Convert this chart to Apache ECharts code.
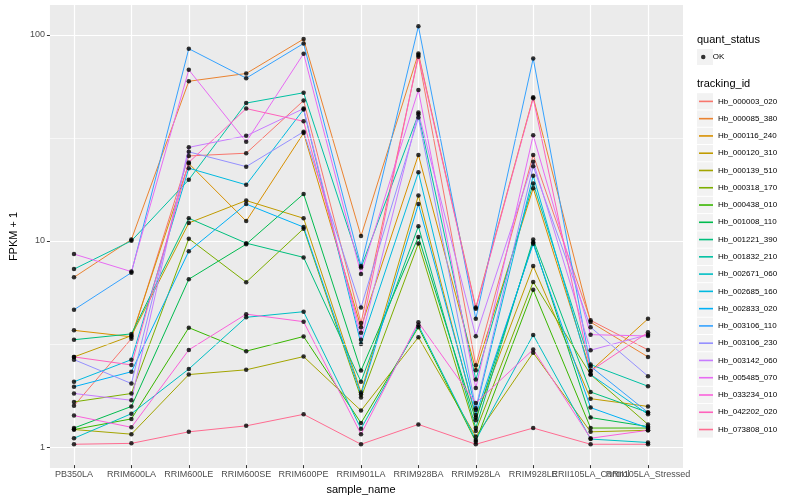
<!DOCTYPE html>
<html><head><meta charset="utf-8">
<script src="https://cdn.jsdelivr.net/npm/echarts@6/dist/echarts.min.js"></script>
<style>html,body{margin:0;padding:0;background:#fff}#c{width:800px;height:500px}</style>
</head><body><div id="c"></div>
<script>
const categories = ['PB350LA','RRIM600LA','RRIM600LE','RRIM600SE','RRIM600PE','RRIM901LA','RRIM928BA','RRIM928LA','RRIM928LE','RRII105LA_Control','RRII105LA_Stressed'];
const trackingIds = ['Hb_000003_020','Hb_000085_380','Hb_000116_240','Hb_000120_310','Hb_000139_510','Hb_000318_170','Hb_000438_010','Hb_001008_110','Hb_001221_390','Hb_001832_210','Hb_002671_060','Hb_002685_160','Hb_002833_020','Hb_003106_110','Hb_003106_230','Hb_003142_060','Hb_005485_070','Hb_033234_010','Hb_042202_020','Hb_073808_010'];
const seriesColors = ['#F8766D','#EA8331','#D89000','#C09B00','#A3A500','#7CAE00','#39B600','#00BB4E','#00BF7D','#00C1A3','#00BFC4','#00BAE0','#00B0F6','#35A2FF','#9590FF','#C77CFF','#E76BF3','#FA62DB','#FF62BC','#FF6C91'];

// FPKM + 1 values, one array per tracking_id, in category order
const hb_000003_020 = [1.54, 3.28, 25.6, 26.4, 47.7, 3.91, 78.2, 2.43, 25.9, 4.03, 2.89];
const hb_000085_380 = [6.54, 10.0, 59.3, 64.7, 95.3, 10.4, 81.1, 4.66, 49.6, 3.95, 2.67];
const hb_000116_240 = [3.60, 3.35, 23.5, 12.3, 33.1, 3.73, 25.9, 2.30, 17.8, 2.28, 4.10];
const hb_000120_310 = [2.67, 3.39, 12.05, 15.5, 12.7, 1.79, 16.4, 1.35, 7.42, 1.67, 1.53];
const hb_000139_510 = [1.18, 1.12, 2.19, 2.31, 2.68, 1.46, 3.33, 1.09, 2.80, 1.15, 1.17];
const hb_000318_170 = [1.61, 1.77, 10.1, 6.19, 11.3, 1.69, 9.57, 1.16, 6.21, 2.19, 1.25];
const hb_000438_010 = [1.18, 1.33, 3.71, 2.85, 3.36, 1.27, 3.73, 1.03, 5.68, 1.20, 1.20];
const hb_001008_110 = [1.20, 1.53, 6.40, 9.49, 16.7, 2.29, 10.3, 1.31, 9.7, 1.35, 1.22];
const hb_001221_390 = [3.24, 3.46, 12.7, 9.6, 8.18, 2.02, 11.6, 1.20, 10.0, 1.80, 1.43];
const hb_001832_210 = [7.17, 9.85, 19.6, 46.4, 52.1, 7.3, 40.9, 2.07, 18.8, 2.45, 1.92];
const hb_002671_060 = [1.07, 1.41, 2.33, 4.17, 4.44, 1.19, 3.81, 1.05, 3.42, 1.06, 1.02];
const hb_002685_160 = [2.02, 2.59, 22.3, 18.5, 43.2, 3.09, 21.3, 1.47, 20.5, 2.19, 1.40];
const hb_002833_020 = [1.91, 2.26, 8.77, 14.9, 11.5, 1.75, 14.9, 1.39, 9.53, 1.51, 1.20];
const hb_003106_110 = [4.54, 6.89, 85.5, 61.4, 90.7, 7.42, 110, 4.10, 76.7, 2.40, 1.43];
const hb_003106_230 = [2.59, 1.98, 26.8, 22.7, 33.6, 4.66, 39.4, 1.50, 22.8, 3.73, 2.15];
const hb_003142_060 = [1.77, 1.64, 28.2, 32.1, 43.6, 3.24, 41.7, 3.37, 24.0, 2.88, 3.43];
const hb_005485_070 = [8.49, 6.97, 67.4, 30.0, 80.9, 6.79, 53.7, 1.88, 32.3, 3.43, 3.38];
const hb_033234_010 = [1.38, 1.21, 2.89, 4.32, 3.97, 1.12, 3.94, 1.59, 2.90, 1.07, 1.17];
const hb_042202_020 = [2.67, 2.44, 23.8, 43.6, 37.8, 3.50, 79.6, 4.59, 49.0, 2.28, 3.52];
const hb_073808_010 = [1.00, 1.01, 1.15, 1.23, 1.40, 1.00, 1.25, 1.00, 1.20, 1.00, 1.00];

const seriesValues = [hb_000003_020, hb_000085_380, hb_000116_240, hb_000120_310, hb_000139_510, hb_000318_170, hb_000438_010, hb_001008_110, hb_001221_390, hb_001832_210, hb_002671_060, hb_002685_160, hb_002833_020, hb_003106_110, hb_003106_230, hb_003142_060, hb_005485_070, hb_033234_010, hb_042202_020, hb_073808_010];

const yTicks = [1, 10, 100];
const yMinorGrid = [3.1623, 31.623];
const yRange = [0.791, 139.8];
const quantStatus = ['OK'];

const FONT = '"Liberation Sans", Arial, Helvetica, sans-serif';
const chart = echarts.init(document.getElementById('c'), null, {renderer: 'canvas'});

const points = [];
seriesValues.forEach(arr => arr.forEach((v, j) => points.push([categories[j], v])));

const lineSeries = trackingIds.map((id, i) => ({
  name: id, type: 'line', xAxisIndex: 1, yAxisIndex: 1,
  data: seriesValues[i], symbol: 'none', showSymbol: false, silent: true,
  lineStyle: {width: 1, color: seriesColors[i]}, itemStyle: {color: seriesColors[i]}, z: 2
}));

const keyBoxes = [{type: 'rect', shape: {x: 697, y: 49, width: 16, height: 16}, style: {fill: '#F2F2F2'}}];
trackingIds.forEach((_, i) => keyBoxes.push({type: 'rect', shape: {x: 697, y: 93.2 + i * 17.27, width: 16, height: 16.3}, style: {fill: '#F2F2F2'}}));

chart.setOption({
  animation: false,
  backgroundColor: '#ffffff',
  textStyle: {fontFamily: FONT},
  title: [
    {text: 'quant_status', left: 697, top: 34, padding: 0, textStyle: {fontSize: 11, fontWeight: 'normal', color: '#000', fontFamily: FONT}},
    {text: 'tracking_id', left: 697, top: 78, padding: 0, textStyle: {fontSize: 11, fontWeight: 'normal', color: '#000', fontFamily: FONT}}
  ],
  graphic: keyBoxes,
  grid: [
    {left: 40, right: 117, top: 5, bottom: 32, show: true, backgroundColor: '#EBEBEB', borderWidth: 0},
    {left: 74, right: 152, top: 5, bottom: 32, show: false}
  ],
  xAxis: [
    {type: 'value', gridIndex: 0, min: 0, max: 1, show: false},
    {type: 'category', gridIndex: 1, data: categories, boundaryGap: false,
     axisLine: {show: false},
     axisTick: {show: true, length: 3, alignWithLabel: true, lineStyle: {color: '#333333', width: 1}},
     axisLabel: {interval: 0, fontSize: 9, color: '#4D4D4D', margin: 5, fontFamily: FONT},
     splitLine: {show: true, lineStyle: {color: '#ffffff', width: 1.2}},
     name: 'sample_name', nameLocation: 'middle', nameGap: 13,
     nameTextStyle: {fontSize: 11, color: '#000', fontFamily: FONT}}
  ],
  yAxis: [
    {type: 'log', logBase: 10, gridIndex: 0, min: yRange[0], max: yRange[1],
     axisLine: {show: false},
     axisTick: {show: true, length: 3, customValues: yTicks, lineStyle: {color: '#333333', width: 1}},
     axisLabel: {customValues: yTicks, fontSize: 9, color: '#4D4D4D', margin: 5, fontFamily: FONT},
     splitLine: {show: true, lineStyle: {color: '#ffffff', width: 1.2}},
     name: 'FPKM + 1', nameLocation: 'middle', nameGap: 22,
     nameTextStyle: {fontSize: 11, color: '#000', fontFamily: FONT}},
    {type: 'log', logBase: 10, gridIndex: 1, min: yRange[0], max: yRange[1], show: false}
  ],
  legend: [
    {data: quantStatus, orient: 'vertical', left: 701, top: 49, padding: 0, itemWidth: 9, itemHeight: 4.5,
     icon: 'circle', selectedMode: false, textStyle: {fontSize: 8, color: '#000', lineHeight: 16, fontFamily: FONT}},
    {data: trackingIds, orient: 'vertical', left: 699, top: 92.9, padding: 0, itemWidth: 14, itemHeight: 1.6,
     itemGap: 0.27, icon: 'rect', selectedMode: false, textStyle: {fontSize: 8, color: '#000', lineHeight: 17, fontFamily: FONT}}
  ],
  series: [
    {type: 'line', xAxisIndex: 0, yAxisIndex: 0, data: [[0, 1]], symbol: 'none', silent: true,
     lineStyle: {opacity: 0}, z: 0,
     markLine: {silent: true, symbol: 'none', label: {show: false}, animation: false,
                lineStyle: {color: '#ffffff', width: 0.6, type: 'solid'},
                data: yMinorGrid.map(v => ({yAxis: v}))}},
    ...lineSeries,
    {name: 'OK', type: 'scatter', xAxisIndex: 1, yAxisIndex: 1, data: points, symbolSize: 4.5,
     itemStyle: {color: '#000000'}, z: 3, silent: true}
  ]
});
</script></body></html>
